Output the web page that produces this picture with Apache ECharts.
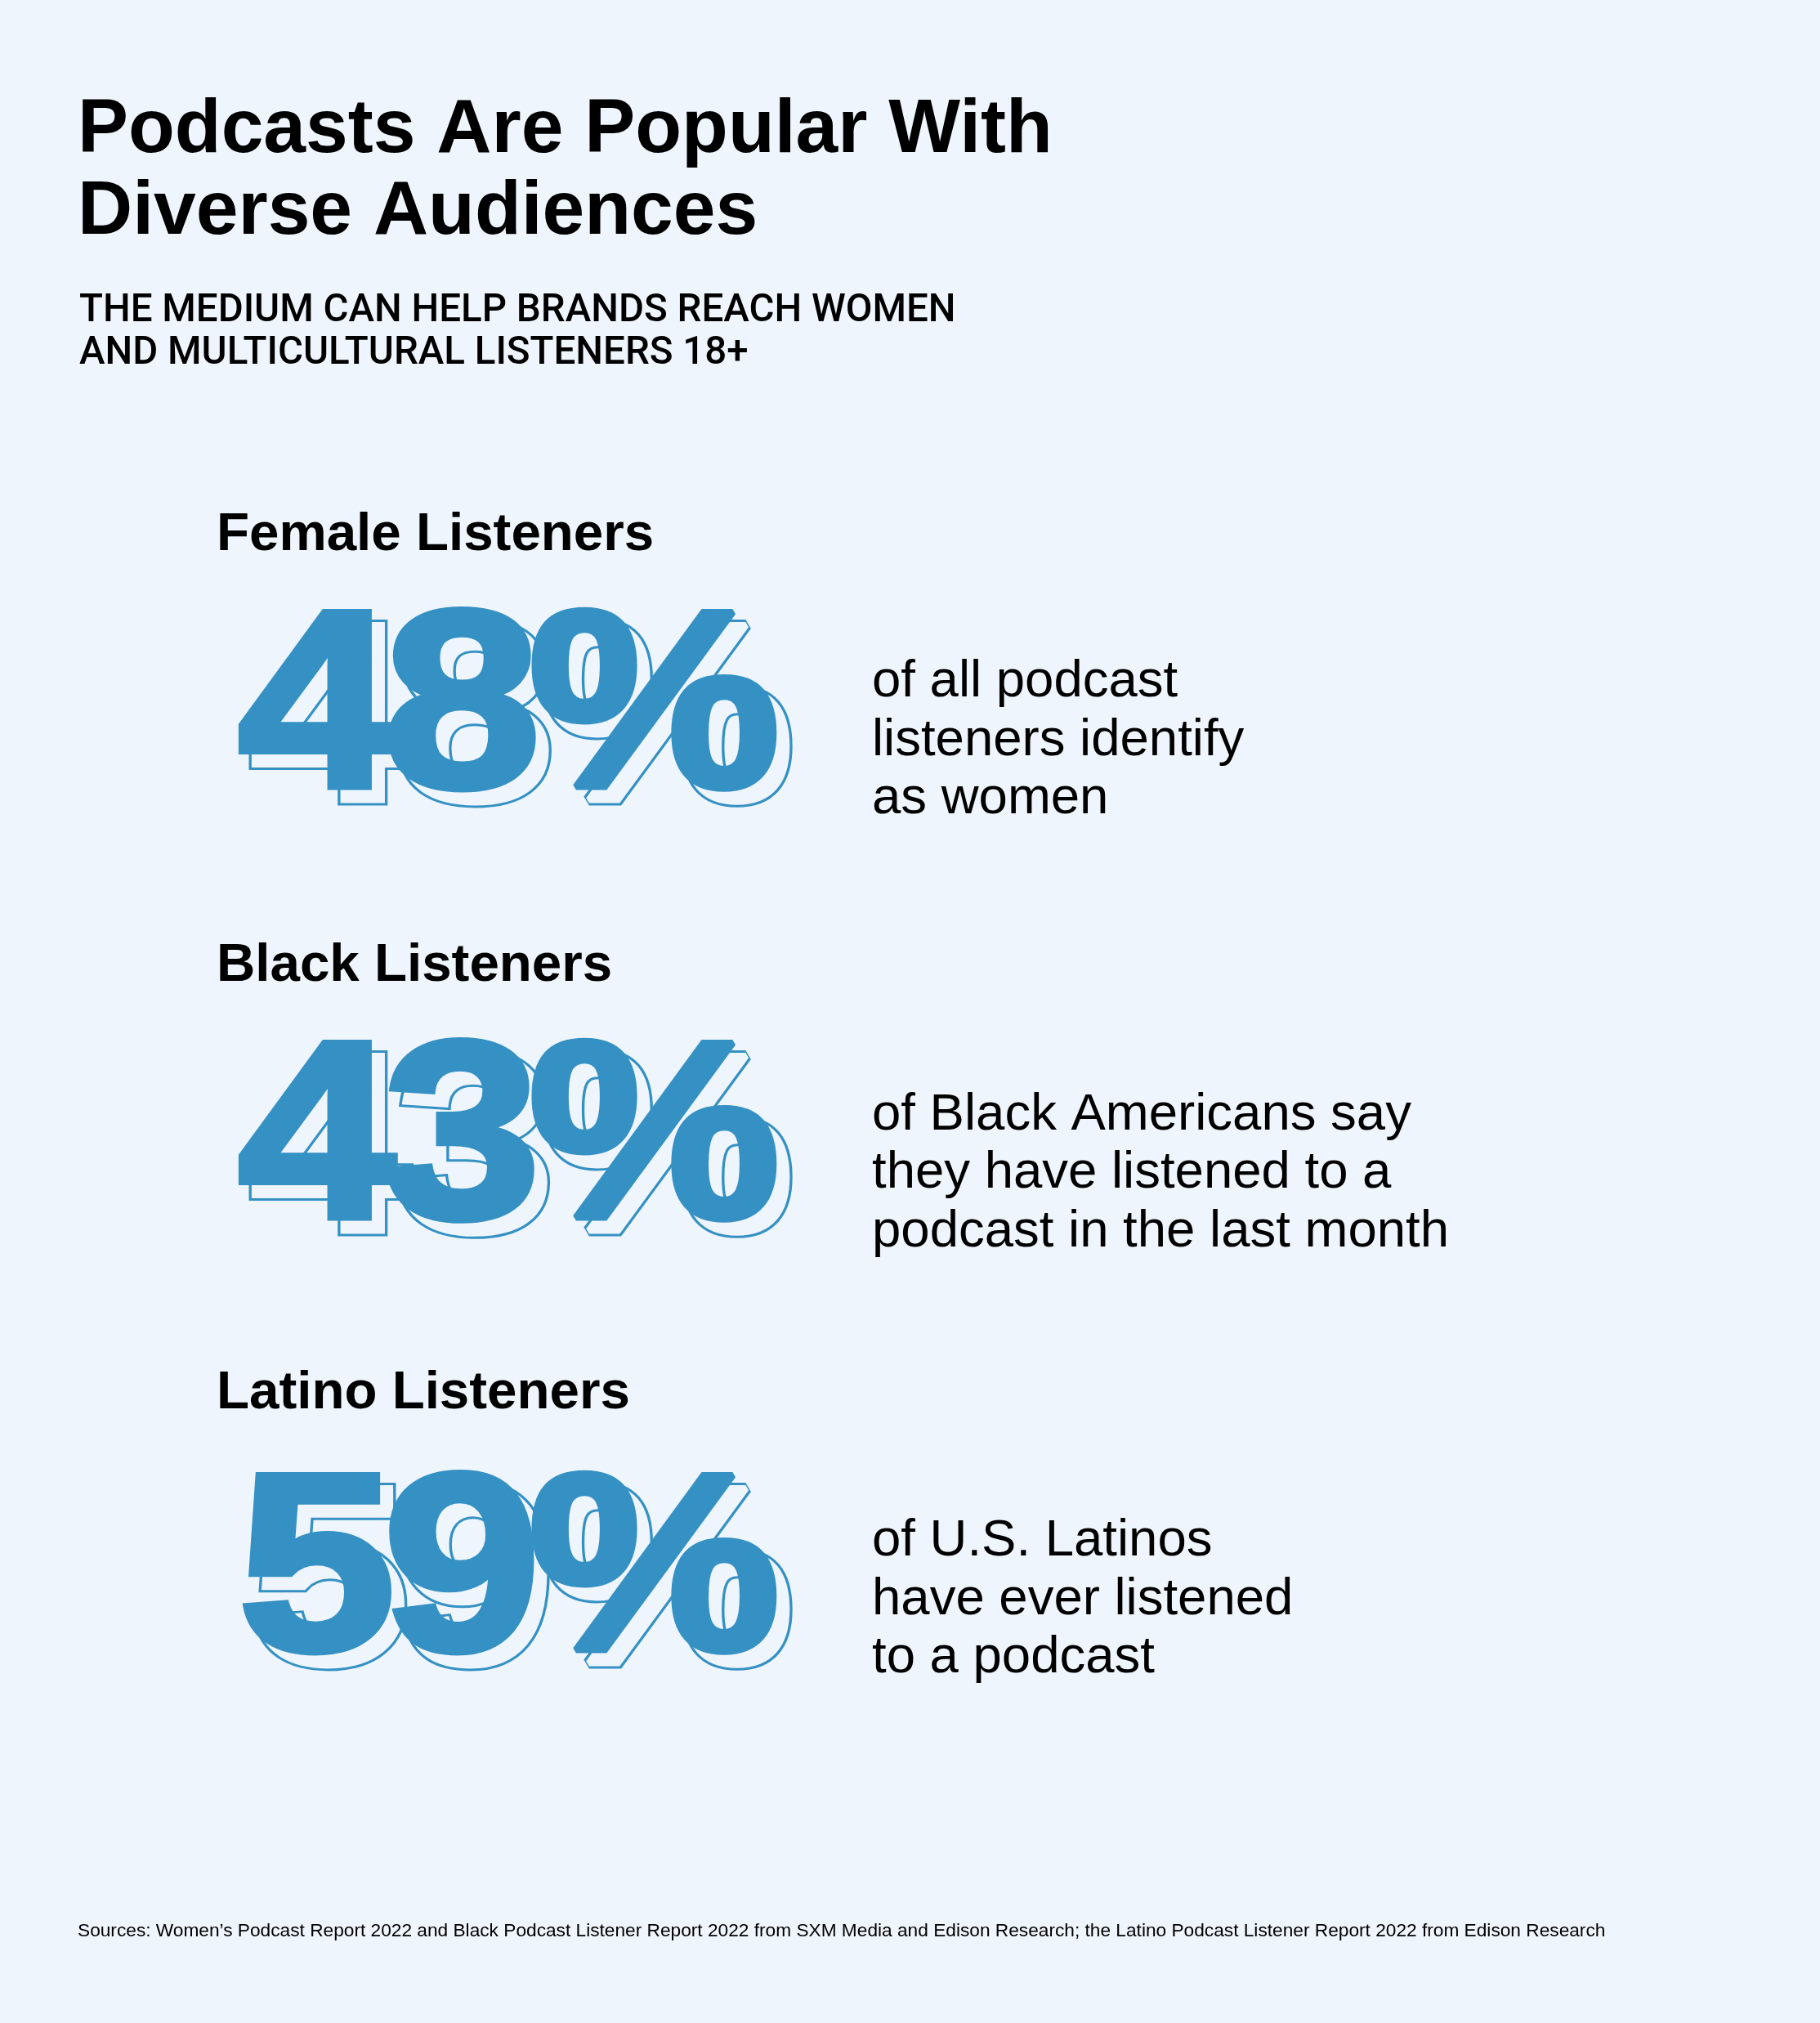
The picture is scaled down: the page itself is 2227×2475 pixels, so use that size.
<!DOCTYPE html>
<html>
<head>
<meta charset="utf-8">
<script src="https://cdn.jsdelivr.net/npm/echarts@6/dist/echarts.min.js"></script>
<style>
html,body{margin:0;padding:0;background:#eff5fc;}
#chart{width:2227px;height:2475px;}
</style>
</head>
<body>
<div id="chart"></div>
<script>
// ---- data ----
const titleLines = ['Podcasts Are Popular With', 'Diverse Audiences'];
const subtitleLines = ['THE MEDIUM CAN HELP BRANDS REACH WOMEN', 'AND MULTICULTURAL LISTENERS 18+'];
const groups = ['Female Listeners', 'Black Listeners', 'Latino Listeners'];
const values = [48, 43, 59];
const descriptions = [
  ['of all podcast', 'listeners identify', 'as women'],
  ['of Black Americans say', 'they have listened to a', 'podcast in the last month'],
  ['of U.S. Latinos', 'have ever listened', 'to a podcast']
];
const sourceText = 'Sources: Women\u2019s Podcast Report 2022 and Black Podcast Listener Report 2022 from SXM Media and Edison Research; the Latino Podcast Listener Report 2022 from Edison Research';

// ---- layout/style ----
const BG = '#eff5fc';
const BLUE = '#3591c4';
const INK = '#000000';
const headingBaselines = [675, 1202, 1725];
const numberBaselines = [973, 1500, 2029];
const descBaselines = [[854, 926, 997], [1384, 1455, 1527], [1905, 1977, 2048]];

const chart = echarts.init(document.getElementById('chart'), null, {renderer: 'canvas'});
const graphics = [];

// verticalAlign middle places the em-middle at y; alphabetic baseline ~0.31em lower
function textAtBaseline(x, baseline, str, font, fs, color) {
  graphics.push({
    type: 'text', x: x, y: baseline - 0.31 * fs, silent: true,
    style: {text: str, font: font, fill: color, verticalAlign: 'middle', align: 'left'}
  });
}

titleLines.forEach((t, i) => textAtBaseline(95, [189, 289][i], t, 'bold 93px "Liberation Sans", Arial, sans-serif', 93, INK));
subtitleLines.forEach((t, i) => textAtBaseline(97, [396, 448][i], t, '500 47.5px Roboto, "Liberation Sans", sans-serif', 47.5, INK));

const mctx = document.createElement('canvas').getContext('2d');
const NUM_FS = 310;
const NUM_FONT = 'bold ' + NUM_FS + 'px "Liberation Sans", Arial, sans-serif';
const SX = 1.12;
const TRACK = -0.05 * NUM_FS;
const RIGHT = 955;
const OFF = [16, 16];
const HEAVY = 8;   // extra stroke to thicken glyphs
const RING = 3;    // outline ring width of the shadow copy
mctx.font = NUM_FONT;

groups.forEach((g, i) => {
  textAtBaseline(265, headingBaselines[i], g, 'bold 65.5px "Liberation Sans", Arial, sans-serif', 65.5, INK);
  const str = values[i] + '%';
  const chars = str.split('');
  const widths = chars.map(c => mctx.measureText(c).width * SX);
  const total = widths.reduce((a, b) => a + b, 0) + TRACK * (chars.length - 1);
  let x = RIGHT - total;
  const yMid = numberBaselines[i] - 0.31 * NUM_FS;
  const positions = [];
  chars.forEach((c, k) => { positions.push(x); x += widths[k] + TRACK; });
  // offset outline copy: blue ring then background fill, per character
  chars.forEach((c, k) => {
    graphics.push({
      type: 'text', x: positions[k] + OFF[0], y: yMid + OFF[1], scaleX: SX, silent: true, z: 1,
      style: {text: c, font: NUM_FONT, fill: BLUE, stroke: BLUE, lineWidth: HEAVY + RING * 2, lineJoin: 'round', verticalAlign: 'middle', align: 'left'}
    });
    graphics.push({
      type: 'text', x: positions[k] + OFF[0], y: yMid + OFF[1], scaleX: SX, silent: true, z: 1,
      style: {text: c, font: NUM_FONT, fill: BG, stroke: BG, lineWidth: HEAVY, lineJoin: 'round', verticalAlign: 'middle', align: 'left'}
    });
  });
  // main filled copy
  chars.forEach((c, k) => {
    graphics.push({
      type: 'text', x: positions[k], y: yMid, scaleX: SX, silent: true, z: 2,
      style: {text: c, font: NUM_FONT, fill: BLUE, stroke: BLUE, lineWidth: HEAVY, lineJoin: 'round', verticalAlign: 'middle', align: 'left'}
    });
  });
  descriptions[i].forEach((line, j) => textAtBaseline(1067, descBaselines[i][j], line, '63.5px "Liberation Sans", Arial, sans-serif', 63.5, INK));
});

textAtBaseline(95, 2370, sourceText, '22.7px "Liberation Sans", Arial, sans-serif', 22.7, INK);

chart.setOption({
  backgroundColor: BG,
  animation: false,
  graphic: {elements: graphics}
});
</script>
</body>
</html>
